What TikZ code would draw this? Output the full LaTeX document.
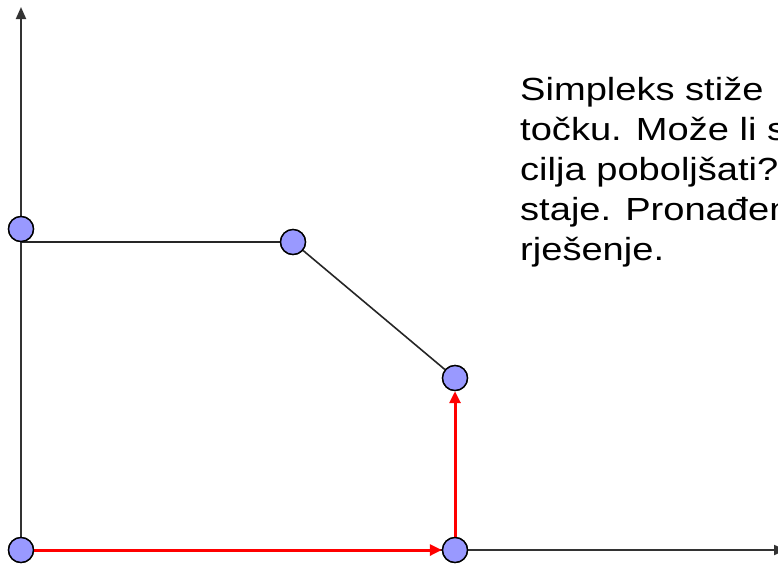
\documentclass[tikz,border=0pt]{standalone}
\usepackage{fontspec}
\setmainfont{Liberation Sans}
\usetikzlibrary{arrows.meta}
\definecolor{vfill}{HTML}{9999FF}
\newcommand{\widetxt}[1]{\scalebox{1.19}[1]{#1}}
\begin{document}
\begin{tikzpicture}[x=1pt,y=-1pt,
  vtx/.style={circle,draw=black,line width=1.4pt,fill=vfill,minimum size=25pt,inner sep=0pt},
  axisline/.style={line width=1.8pt,draw=black!80,-{Triangle[length=12pt,width=10pt]}},
  edgeline/.style={line width=1.6pt,draw=black!85},
  redarr/.style={line width=3pt,draw=red,-{Triangle[length=12pt,width=11pt]}},
  txt/.style={anchor=base west,inner sep=0pt,font=\fontsize{32}{38}\selectfont}]
\useasboundingbox (0,0) rectangle (778,566);
\clip (0,0) rectangle (778,566);
\coordinate (ytop) at (21,7);
\coordinate (xend) at (786,550);
\coordinate (h) at (21,242);
\coordinate (og) at (21,550);
\draw[axisline] (og) -- (ytop);
\draw[axisline] (og) -- (xend);
\node[vtx] (o) at (21,550) {};
\node[vtx] (a) at (455,550) {};
\node[vtx] (b) at (455,378) {};
\node[vtx] (c) at (293,242) {};
\node[vtx] (d) at (21,229) {};
\draw[edgeline] (h) -- (c);
\draw[edgeline] (c) -- (b);
\draw[redarr] (o) -- (a);
\draw[redarr] (a) -- (b);
\node[vtx] at (o) {};
\node[vtx] at (a) {};
\node[vtx] at (b) {};
\node[vtx] at (c) {};
\node[vtx] at (d) {};
\node[txt] (t1) at (520,100) {\widetxt{Simpleks stiže}};
\node[txt] (t2) at (520,140) {\widetxt{točku. Može li s}};
\node[txt] (t3) at (520,180) {\widetxt{cilja poboljšati?}};
\node[txt] (t4) at (520,220) {\widetxt{staje. Pronađen}};
\node[txt] (t5) at (520,260) {\widetxt{rješenje.}};
\end{tikzpicture}
\end{document}
